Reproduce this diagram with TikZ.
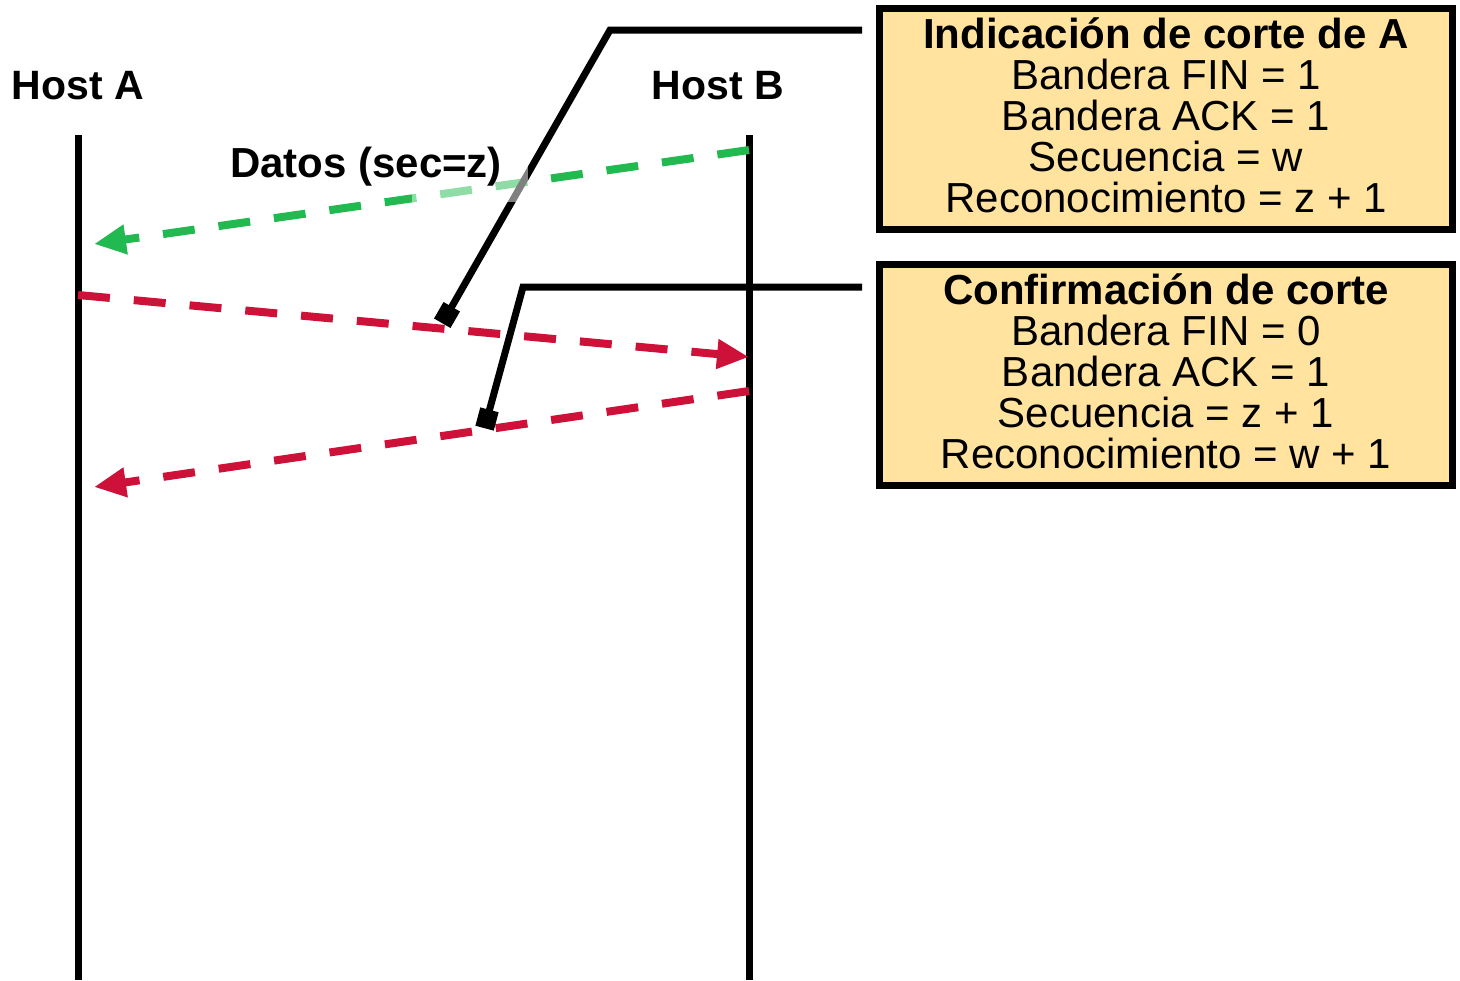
\documentclass[tikz,border=0pt]{standalone}
\usepackage{fontspec}
\setmainfont{Liberation Sans}
\usetikzlibrary{arrows.meta}
\definecolor{segGreen}{RGB}{34,186,80}
\definecolor{segRed}{RGB}{206,17,56}
\definecolor{boxFill}{RGB}{255,227,158}
\begin{document}
\begin{tikzpicture}[x=0.5pt,y=-0.5pt,
  hostline/.style={line width=3.5pt},
  hostlabel/.style={font=\bfseries\fontsize{20.5pt}{24pt}\selectfont, inner sep=0pt},
  msg/.style={line width=4pt, dash pattern=on 16pt off 12pt,
    -{Triangle[length=16pt,width=14pt]}},
  callout/.style={line width=3.5pt, miter limit=10},
  calloutend/.style={fill=black, minimum size=9.5pt, inner sep=0pt},
  infobox/.style={draw, line width=3.5pt, fill=boxFill, minimum width=286.5pt,
    minimum height=110.5pt, inner sep=0pt},
  infotext/.style={align=center, inner sep=0pt,
    font=\fontsize{21pt}{20.5pt}\selectfont}]
\useasboundingbox (0,0) rectangle (1460,980);

% host time lines
\coordinate (atop) at (78,135);
\coordinate (abot) at (78,980);
\coordinate (btop) at (749,135);
\coordinate (bbot) at (749,980);
\draw[hostline] (atop) -- (abot);
\draw[hostline] (btop) -- (bbot);
\node[hostlabel] (hosta) at (78,86) {Host A};
\node[hostlabel] (hostb) at (718,86) {Host B};

% segments exchanged
\coordinate (g1) at (749,150);
\coordinate (g2) at (94,244);
\coordinate (r1a) at (78,295);
\coordinate (r1b) at (749,357);
\coordinate (r2a) at (749,391);
\coordinate (r2b) at (94,487);
\draw[msg, segGreen] (g1) -- (g2);
\draw[msg, segRed] (r1a) -- (r1b);
\draw[msg, segRed] (r2a) -- (r2b);

% information boxes
\node[infobox] (fin) at (1166,119) {};
\node[infotext] (fintext) at (1166,115) {{\bfseries Indicación de corte de A}\\
  Bandera FIN = 1\\ Bandera ACK = 1\\ Secuencia = w\\ Reconocimiento = z + 1};
\node[infobox] (conf) at (1166,375) {};
\node[infotext] (conftext) at (1166,371) {{\bfseries Confirmación de corte}\\
  Bandera FIN = 0\\ Bandera ACK = 1\\ Secuencia = z + 1\\ Reconocimiento = w + 1};

% callout leaders
\coordinate (c1s) at (862,30);
\coordinate (c1k) at (610,30);
\coordinate (c1e) at (447,315);
\coordinate (c2s) at (862,287);
\coordinate (c2k) at (523,287);
\coordinate (c2e) at (487,419);
\draw[callout] (c1s) -- (c1k) -- (c1e);
\draw[callout] (c2s) -- (c2k) -- (c2e);
\node[calloutend, rotate=60] (m1) at (c1e) {};
\node[calloutend, rotate=75] (m2) at (c2e) {};

% faded patch under the label
\fill[white, fill opacity=0.5] (412,165) rectangle (528,202);
\node[hostlabel, font=\bfseries\fontsize{21pt}{24pt}\selectfont] (datos) at (366,167) {Datos (sec=z)};
\end{tikzpicture}
\end{document}
